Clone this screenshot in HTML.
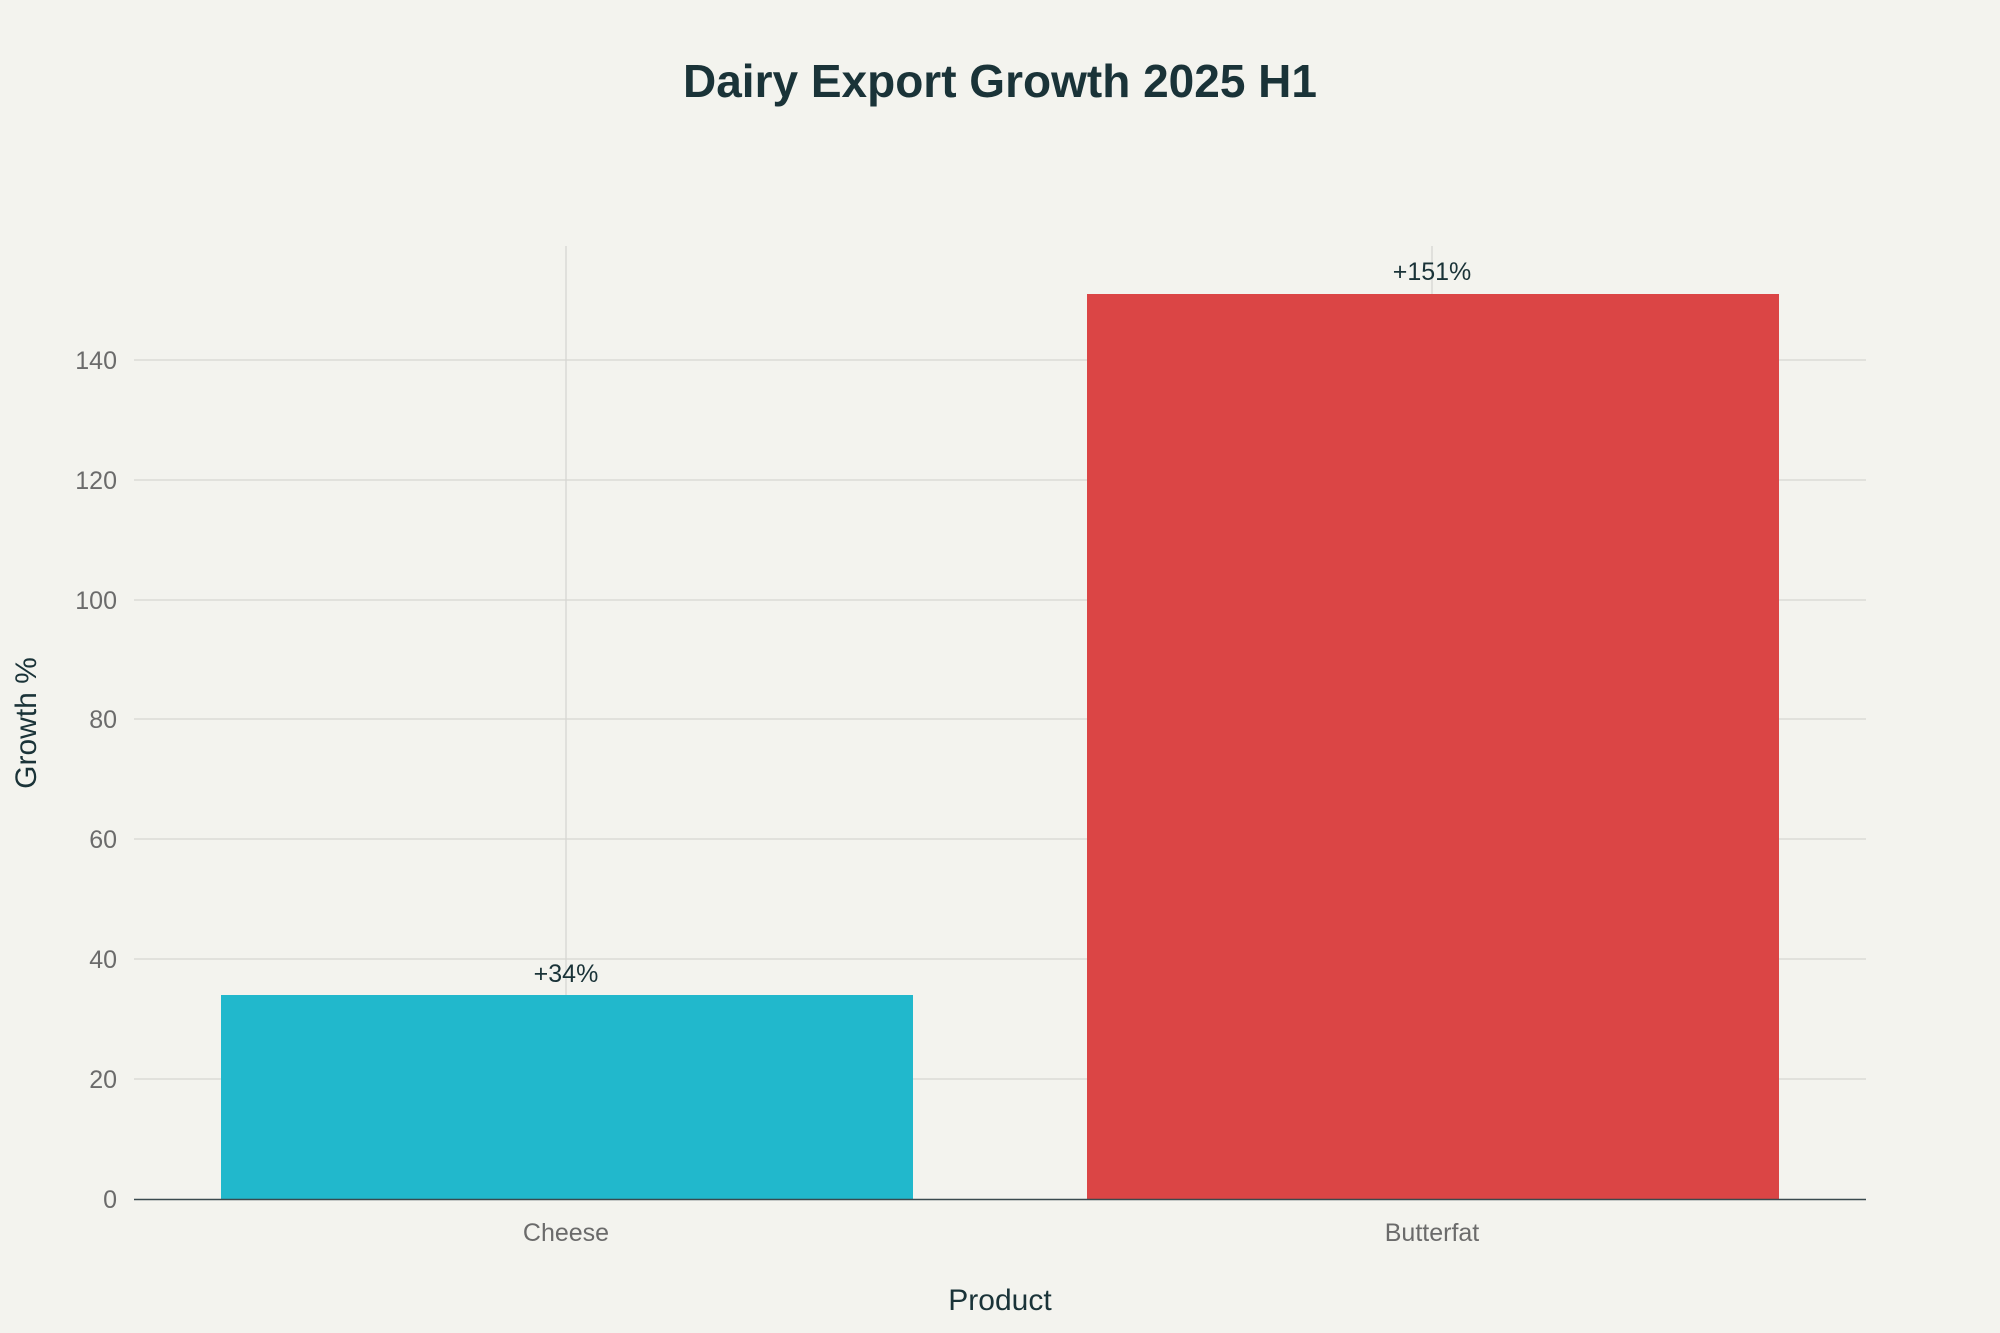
<!DOCTYPE html>
<html><head><meta charset="utf-8"><style>
html,body{margin:0;padding:0;background:#f3f3ee;}
svg{display:block;font-family:"Liberation Sans",sans-serif;}
</style></head><body>
<svg width="2000" height="1333" viewBox="0 0 2000 1333" xmlns="http://www.w3.org/2000/svg">
<rect width="2000" height="1333" fill="#f3f3ee"/>
<text x="1000" y="97" text-anchor="middle" font-size="46" font-weight="bold" fill="#1a3338">Dairy Export Growth 2025 H1</text>
<g stroke="#d6d6d2" stroke-width="1.3">
<line x1="134" x2="1866" y1="1079" y2="1079"/>
<line x1="134" x2="1866" y1="959" y2="959"/>
<line x1="134" x2="1866" y1="839" y2="839"/>
<line x1="134" x2="1866" y1="719" y2="719"/>
<line x1="134" x2="1866" y1="600" y2="600"/>
<line x1="134" x2="1866" y1="480" y2="480"/>
<line x1="134" x2="1866" y1="360" y2="360"/>
<line x1="566" x2="566" y1="246" y2="1199"/>
<line x1="1432" x2="1432" y1="246" y2="1199"/>
</g>
<rect x="221" y="995" width="692" height="204" fill="#21b8cc"/>
<rect x="1087" y="294" width="692" height="905" fill="#db4545"/>
<line x1="134" x2="1866" y1="1199.5" y2="1199.5" stroke="#3a4a4e" stroke-width="1.5"/>
<g font-size="25" fill="#6b6b6b" text-anchor="end">
<text x="117" y="1208">0</text>
<text x="117" y="1088">20</text>
<text x="117" y="968">40</text>
<text x="117" y="848">60</text>
<text x="117" y="728">80</text>
<text x="117" y="609">100</text>
<text x="117" y="489">120</text>
<text x="117" y="369">140</text>
</g>
<g font-size="25" fill="#6b6b6b" text-anchor="middle">
<text x="566" y="1241">Cheese</text>
<text x="1432" y="1241">Butterfat</text>
</g>
<g font-size="25" fill="#1a3338" text-anchor="middle">
<text x="566" y="982">+34%</text>
<text x="1432" y="280">+151%</text>
</g>
<text x="1000" y="1310" text-anchor="middle" font-size="30" fill="#1a3338">Product</text>
<text x="0" y="0" transform="translate(36,723) rotate(-90)" text-anchor="middle" font-size="30" fill="#1a3338">Growth %</text>
</svg>
</body></html>
